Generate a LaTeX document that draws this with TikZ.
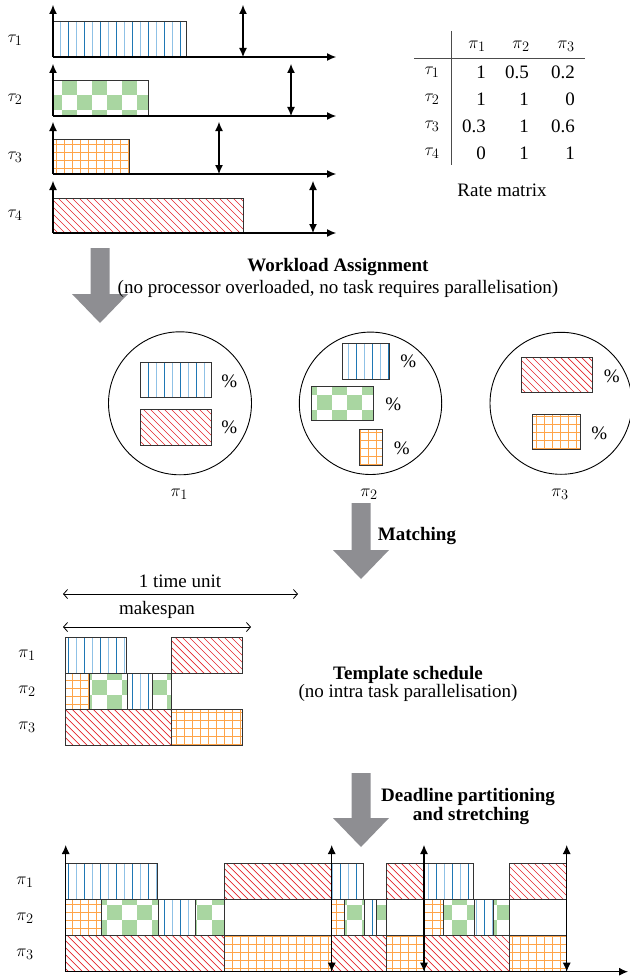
\documentclass[tikz,border=0pt]{standalone}
\usepackage{fontspec}
\setmainfont{Liberation Serif}
\usetikzlibrary{arrows.meta}
\definecolor{bdark}{HTML}{1F77B4}
\definecolor{blight}{HTML}{8FC1E6}
\definecolor{grnf}{HTML}{A9D6A1}
\definecolor{orgl}{HTML}{FFA448}
\definecolor{redl}{HTML}{E4262B}
\definecolor{garr}{HTML}{8E8E92}
\tikzset{
 txt/.style={font=\fontsize{19}{22}\selectfont, inner sep=0pt},
 boxline/.style={draw=black!80, line width=0.9pt},
 ax/.style={line width=1.1pt, -{Latex[length=9pt,width=8pt]}},
 dl/.style={line width=1.1pt, {Latex[length=9pt,width=8pt]}-{Latex[length=9pt,width=8pt]}},
 spanarr/.style={line width=0.8pt, {Straight Barb[length=4pt,width=9pt]}-{Straight Barb[length=4pt,width=9pt]}},
 garrow/.style={fill=garr},
 ring/.style={draw=black, line width=0.9pt},
}
\newcommand\patblu[4]{%
 \pgfmathtruncatemacro\pxs{floor(#1/16)*16}\pgfmathtruncatemacro\pxn{\pxs+16}\pgfmathsetmacro\pxe{#3+16}%
 \foreach \x in {\pxs,\pxn,...,\pxe} {\draw[bdark,line width=0.9pt] (\x+4,#2) -- (\x+4,#4); \draw[blight,line width=0.9pt] (\x+12,#2) -- (\x+12,#4);}}
\newcommand\patred[4]{%
 \pgfmathtruncatemacro\pcs{floor((#1-#4)/7)*7}\pgfmathtruncatemacro\pcn{\pcs+7}\pgfmathsetmacro\pce{#3-#2+7}%
 \foreach \pk in {\pcs,\pcn,...,\pce} \draw[redl,line width=0.7pt] (\pk+#2,#2) -- (\pk+#4,#4);}
\newcommand\patorg[4]{%
 \pgfmathtruncatemacro\pxs{floor(#1/8)*8}\pgfmathtruncatemacro\pxn{\pxs+8}\pgfmathsetmacro\pxe{#3+8}%
 \foreach \x in {\pxs,\pxn,...,\pxe} \draw[orgl,line width=0.75pt] (\x,#2) -- (\x,#4);
 \pgfmathtruncatemacro\pys{floor(#2/8)*8}\pgfmathtruncatemacro\pyn{\pys+8}\pgfmathsetmacro\pye{#4+8}%
 \foreach \y in {\pys,\pyn,...,\pye} \draw[orgl,line width=0.75pt] (#1,\y) -- (#3,\y);}
\newcommand\patgrn[4]{%
 \pgfmathtruncatemacro\pia{floor((#1-2)/15)}\pgfmathtruncatemacro\pib{floor((#3-2)/15)}%
 \pgfmathtruncatemacro\pja{floor((#2-5)/15)}\pgfmathtruncatemacro\pjb{floor((#4-5)/15)}%
 \foreach \i in {\pia,...,\pib} {\foreach \j in {\pja,...,\pjb} {%
   \pgfmathtruncatemacro\pp{mod(\i+\j,2)}%
   \ifnum\pp=1 \fill[grnf] ({2+15*\i},{5+15*\j}) rectangle ++(15,15);\fi}}}
\newcommand\pbox[5]{\begin{scope}\clip (#2,#3) rectangle (#4,#5);\csname pat#1\endcsname{#2}{#3}{#4}{#5}\end{scope}\draw[boxline] (#2,#3) rectangle (#4,#5);}
\newcommand\tmpl[3]{%
 \pgfmathsetmacro\tmA{#1+0.346*#2}\pgfmathsetmacro\tmB{#1+0.598*#2}\pgfmathsetmacro\tmC{#1+0.136*#2}%
 \pgfmathsetmacro\tmD{#1+0.35*#2}\pgfmathsetmacro\tmE{#1+0.488*#2}\pgfmathsetmacro\tmF{#1+#2}%
 \pgfmathsetmacro\tmY{#3+36}\pgfmathsetmacro\tmZ{#3+72}\pgfmathsetmacro\tmW{#3+108}%
 \pbox{blu}{#1}{#3}{\tmA}{\tmY}
 \pbox{red}{\tmB}{#3}{\tmF}{\tmY}
 \pbox{org}{#1}{\tmY}{\tmC}{\tmZ}
 \pbox{grn}{\tmC}{\tmY}{\tmD}{\tmZ}
 \pbox{blu}{\tmD}{\tmY}{\tmE}{\tmZ}
 \pbox{grn}{\tmE}{\tmY}{\tmB}{\tmZ}
 \pbox{red}{#1}{\tmZ}{\tmB}{\tmW}
 \pbox{org}{\tmB}{\tmZ}{\tmF}{\tmW}}
\newcommand\garr[3]{\fill[garrow] (#1-9.5,#2) -- (#1+9.5,#2) -- (#1+9.5,#3-29) -- (#1+28,#3-29) -- (#1,#3) -- (#1-28,#3-29) -- (#1-9.5,#3-29) -- cycle;}
\begin{document}
\begin{tikzpicture}[x=1pt,y=-1pt]
\useasboundingbox (0,0) rectangle (629,979);
% ---------- task set ----------
\pbox{blu}{53}{21}{186}{57}
\pbox{grn}{53}{80}{148}{116}
\pbox{org}{53}{139}{129}{174}
\pbox{red}{53}{198}{243}{233}
\foreach \ya/\yt/\dx in {57/5/243, 116/64/291, 174/122/219, 233/181/313} {
  \draw[ax] (53,\ya) -- (53,\yt);
  \draw[ax] (53,\ya) -- (336,\ya);
  \draw[dl] (\dx,\yt) -- (\dx,\ya);
}
\node[txt] (tau1) at (15,40) {$\tau_1$};
\node[txt] (tau2) at (15,99) {$\tau_2$};
\node[txt] (tau3) at (15,157) {$\tau_3$};
\node[txt] (tau4) at (15,215) {$\tau_4$};
% ---------- rate matrix ----------
\draw[black!70,line width=0.8pt] (451,31) -- (451,165);
\draw[black!70,line width=0.8pt] (414,58) -- (585,58);
\node[txt] (h1) at (477,46) {$\pi_1$};
\node[txt] (h2) at (521,46) {$\pi_2$};
\node[txt] (h3) at (566,46) {$\pi_3$};
\node[txt] (r1) at (432,72) {$\tau_1$};
\node[txt] (r2) at (432,99) {$\tau_2$};
\node[txt] (r3) at (432,126) {$\tau_3$};
\node[txt] (r4) at (432,153) {$\tau_4$};
\foreach \yy/\va/\vb/\vc [count=\n] in {72/1/0.5/0.2, 99/1/1/0, 126/0.3/1/0.6, 153/0/1/1} {
  \node[txt,anchor=east] (ma\n) at (486,\yy) {\va};
  \node[txt,anchor=east] (mb\n) at (529,\yy) {\vb};
  \node[txt,anchor=east] (mc\n) at (575,\yy) {\vc};
}
\node[txt] (ratecap) at (502,190) {Rate matrix};
% ---------- arrow 1 ----------
\garr{100}{248}{323}
\node[txt,font=\fontsize{19}{22}\selectfont\bfseries] (wa) at (338,267) {Workload Assignment};
\node[txt] (wb) at (338,289) {(no processor overloaded, no task requires parallelisation)};
% ---------- processors ----------
\draw[ring] (180,403.3) circle (71.5);
\draw[ring] (370.5,403.3) circle (71.2);
\draw[ring] (561,403.3) circle (71);
\pbox{blu}{140}{362.3}{211}{397.7}
\pbox{red}{140}{409.3}{211}{445}
\node[txt] (p1a) at (229.3,381.7) {\%};
\node[txt] (p1b) at (229.3,427.3) {\%};
\pbox{blu}{342.3}{343.3}{389.3}{379}
\pbox{grn}{311.7}{386}{373.3}{420.7}
\pbox{org}{359}{429.3}{382.7}{465}
\node[txt] (p2a) at (408.3,361.7) {\%};
\node[txt] (p2b) at (393.3,404) {\%};
\node[txt] (p2c) at (401.7,448.3) {\%};
\pbox{red}{521}{357.3}{592.3}{392.7}
\pbox{org}{532.7}{414}{580.7}{449.3}
\node[txt] (p3a) at (611.7,376) {\%};
\node[txt] (p3b) at (599.3,433.3) {\%};
\node[txt] (c1) at (179.3,494) {$\pi_1$};
\node[txt] (c2) at (369,494) {$\pi_2$};
\node[txt] (c3) at (560,494) {$\pi_3$};
% ---------- arrow 2 ----------
\garr{361}{503}{579}
\node[txt,font=\fontsize{19}{22}\selectfont\bfseries] (mt) at (417,536) {Matching};
% ---------- template ----------
\node[txt] (tu) at (180,581) {1 time unit};
\coordinate (tuL) at (63,594); \coordinate (tuR) at (298,594);
\draw[spanarr] (tuL) -- (tuR);
\node[txt] (mk) at (157,610) {makespan};
\coordinate (mkL) at (63,627); \coordinate (mkR) at (251,627);
\draw[spanarr] (mkL) -- (mkR);
\tmpl{65.7}{177}{637}
\node[txt] (q1) at (27,655) {$\pi_1$};
\node[txt] (q2) at (27,691) {$\pi_2$};
\node[txt] (q3) at (27,727) {$\pi_3$};
\node[txt,font=\fontsize{19}{22}\selectfont\bfseries] (ts) at (408,675) {Template schedule};
\node[txt] (tsb) at (408,693) {(no intra task parallelisation)};
% ---------- arrow 3 ----------
\garr{361}{773}{847}
\node[txt,font=\fontsize{19}{22}\selectfont\bfseries] (dp) at (468,797) {Deadline partitioning};
\node[txt,font=\fontsize{19}{22}\selectfont\bfseries] (ds) at (471,816) {and stretching};
% ---------- final schedule ----------
\tmpl{65.7}{266}{863.3}
\tmpl{331.7}{92.3}{863.3}
\tmpl{424}{142.7}{863.3}
\draw[ax] (65.7,971.7) -- (65.7,845);
\draw[ax] (65.7,971.7) -- (628,971.7);
\foreach \dx in {331.7,424,566.7} \draw[dl] (\dx,845) -- (\dx,971.7);
\node[txt] (s1) at (25,882) {$\pi_1$};
\node[txt] (s2) at (25,918) {$\pi_2$};
\node[txt] (s3) at (25,954) {$\pi_3$};
\end{tikzpicture}
\end{document}
